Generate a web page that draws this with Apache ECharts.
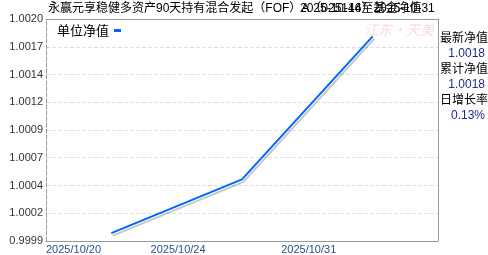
<!DOCTYPE html>
<html>
<head>
<meta charset="utf-8">
<script src="https://cdn.jsdelivr.net/npm/echarts@6/dist/echarts.min.js"></script>
<style>html,body{margin:0;padding:0;background:#fff}#c{width:488px;height:255px}</style>
</head>
<body>
<div id="c"></div>
<script>
// NAV data (weekly)
var navDates = ['2025-10-17', '2025-10-24', '2025-10-31'];
var navValues = [0.99997, 1.00047, 1.0018];
// x-axis label categories (trading days)
var labelDays = ['2025/10/20','2025/10/21','2025/10/22','2025/10/23','2025/10/24',
  '2025/10/27','2025/10/28','2025/10/29','2025/10/30','2025/10/31',
  '2025/11/03','2025/11/04','2025/11/05','2025/11/06','2025/11/07','2025/11/10'];
var shownLabelIdx = [0, 4, 9];
// y-axis ticks
var yTicks = [0.999897, 1.000155, 1.000413, 1.000671, 1.000929, 1.001187, 1.001443, 1.001703, 1.001961];
var yTickLabels = ['0.9999','1.0002','1.0004','1.0007','1.0009','1.0012','1.0014','1.0017','1.0020'];
// side panel
var panelLabels = ['最新净值', '累计净值', '日增长率'];
var panelValues = ['1.0018', '1.0018', '0.13%'];
var titleText = '永赢元享稳健多资产90天持有混合发起（FOF）A（025146）基金净值';
var titleDate = '2025-10-14至2025-10-31';

var FONT = '"Liberation Sans", Arial, "Noto Sans CJK SC", sans-serif';
var chart = echarts.init(document.getElementById('c'), null, {renderer: 'canvas'});

function yLabel(v) {
  var best = 0, bd = Infinity;
  for (var i = 0; i < yTicks.length; i++) {
    var d = Math.abs(yTicks[i] - v);
    if (d < bd) { bd = d; best = i; }
  }
  return yTickLabels[best];
}

var graphics = [
  {type: 'text', left: 300, top: 3, style: {text: titleDate, font: '12px ' + FONT, fill: '#000'}, z: 10},
  {type: 'text', left: 364, top: 23, style: {text: '江东·天美', font: 'italic 14px "Noto Sans CJK SC"', fill: 'rgba(240,120,120,0.28)'}, z: 1}
];
var panelY = [31, 62, 93];
for (var i = 0; i < panelLabels.length; i++) {
  graphics.push({type: 'text', left: 440, top: panelY[i], style: {text: panelLabels[i], font: '12px "Noto Sans CJK SC"', fill: '#000'}});
  graphics.push({type: 'text', right: 3, top: panelY[i] + 17, style: {text: panelValues[i], font: '12px ' + FONT, fill: '#1f2d8a'}});
}

chart.setOption({
  animation: false,
  backgroundColor: '#fff',
  title: {
    text: titleText, left: 48, top: 3, padding: 0,
    textStyle: {fontSize: 12, fontWeight: 'normal', color: '#000', fontFamily: FONT}
  },
  legend: {
    data: ['单位净值'], left: 52, top: 19, align: 'right',
    icon: 'rect', itemWidth: 7, itemHeight: 3, itemGap: 4,
    textStyle: {fontSize: 13, color: '#000', fontFamily: '"Noto Sans CJK SC"', padding: [0, 0, 0, 0]}
  },
  grid: {left: 46, right: 50, top: 19, bottom: 14, containLabel: false},
  xAxis: [
    {type: 'category', data: navDates, boundaryGap: true, show: false},
    {type: 'category', data: labelDays, boundaryGap: false, position: 'bottom',
      axisLine: {show: true, lineStyle: {color: '#999', width: 1}},
      axisTick: {show: false},
      axisLabel: {
        interval: function (idx) { return shownLabelIdx.indexOf(idx) >= 0; },
        align: 'left', margin: 3, fontSize: 11, color: '#2d4d8f', fontFamily: FONT
      },
      splitLine: {show: false}},
    {type: 'category', data: labelDays, boundaryGap: false, position: 'top',
      axisLine: {show: true, lineStyle: {color: '#999', width: 1}},
      axisTick: {show: false}, axisLabel: {show: false}, splitLine: {show: false}}
  ],
  yAxis: [
    {type: 'value', min: yTicks[0], max: yTicks[yTicks.length - 1], position: 'left',
      axisLine: {show: true, lineStyle: {color: '#999', type: 'dashed', width: 1}},
      axisTick: {show: false, customValues: yTicks},
      axisLabel: {customValues: yTicks, formatter: yLabel, margin: 3, fontSize: 11, color: '#333', fontFamily: FONT},
      splitLine: {show: true, lineStyle: {color: '#e0e0e0', type: 'dashed', width: 1}}},
    {type: 'value', min: yTicks[0], max: yTicks[yTicks.length - 1], position: 'right',
      axisLine: {show: true, lineStyle: {color: '#999', width: 1}},
      axisTick: {show: false}, axisLabel: {show: false}, splitLine: {show: false}}
  ],
  series: [{
    name: '单位净值', type: 'line', xAxisIndex: 0, yAxisIndex: 0,
    data: navValues, symbol: 'none', showSymbol: false,
    itemStyle: {color: '#0066ff'},
    lineStyle: {color: '#0066ff', width: 2, shadowColor: 'rgba(0,0,0,0.22)', shadowOffsetX: 1.5, shadowOffsetY: 2.5, shadowBlur: 0}
  }],
  graphic: graphics
});
</script>
</body>
</html>
